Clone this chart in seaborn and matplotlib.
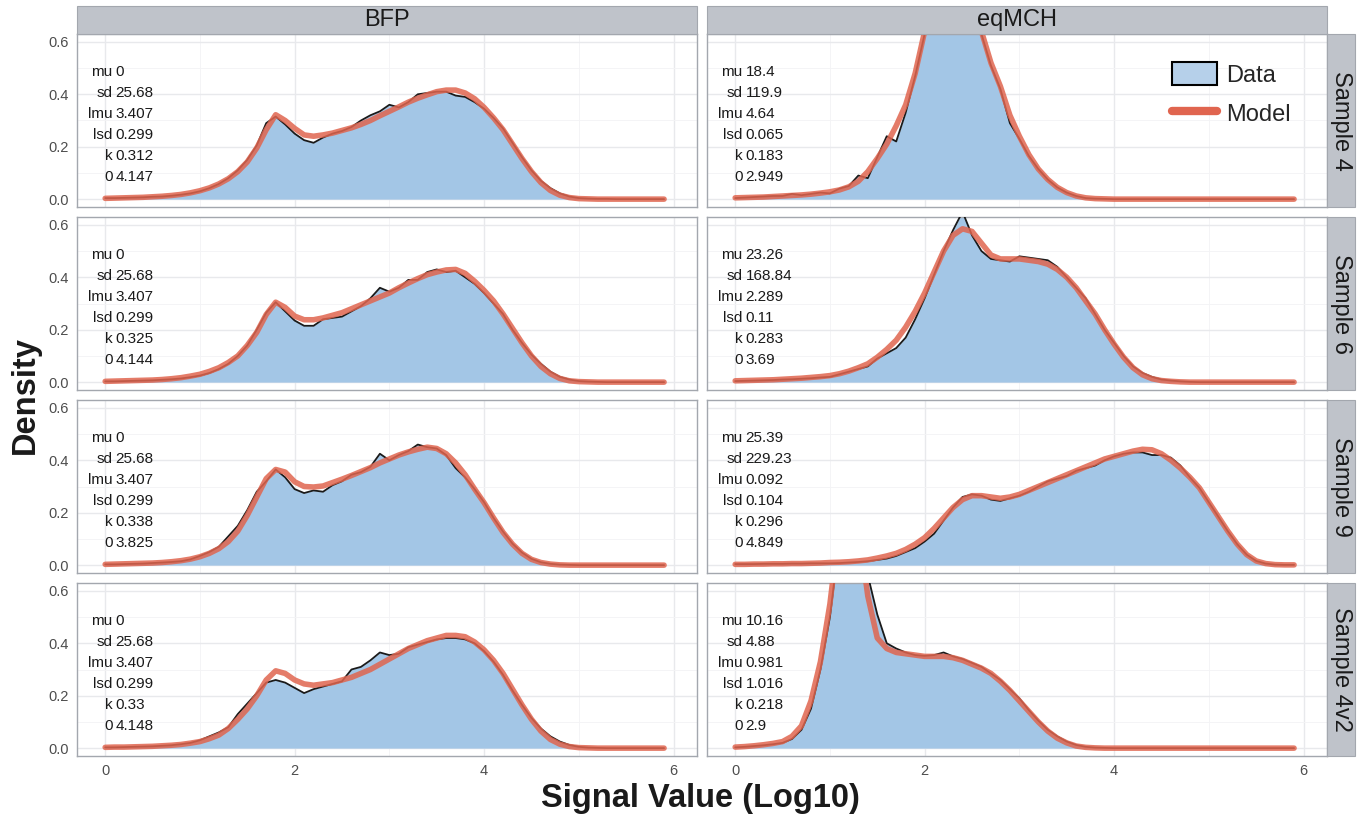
import numpy as np
import seaborn as sns
import matplotlib.pyplot as plt
from matplotlib.patches import Rectangle, Patch
from matplotlib.lines import Line2D

# Signal grid (log10 scale), shared by every panel
X = [0.0, 0.1, 0.2, 0.3, 0.4, 0.5, 0.6, 0.7, 0.8, 0.9,
     1.0, 1.1, 1.2, 1.3, 1.4, 1.5, 1.6, 1.7, 1.8, 1.9,
     2.0, 2.1, 2.2, 2.3, 2.4, 2.5, 2.6, 2.7, 2.8, 2.9,
     3.0, 3.1, 3.2, 3.3, 3.4, 3.5, 3.6, 3.7, 3.8, 3.9,
     4.0, 4.1, 4.2, 4.3, 4.4, 4.5, 4.6, 4.7, 4.8, 4.9,
     5.0, 5.1, 5.2, 5.3, 5.4, 5.5, 5.6, 5.7, 5.8, 5.9]

channels = ['BFP', 'eqMCH']
samples = ['Sample 4', 'Sample 6', 'Sample 9', 'Sample 4v2']
param_names = ['mu', 'sd', 'lmu', 'lsd', 'k', '0']

# --- BFP ---
bfp_s4_data = [.004, .004, .005, .006, .007, .009, .010, .013, .017, .022,
               .030, .042, .058, .080, .110, .150, .205, .290, .315, .285,
               .250, .225, .215, .235, .250, .260, .275, .300, .320, .335,
               .360, .350, .370, .400, .405, .410, .410, .395, .390, .370,
               .345, .310, .270, .215, .160, .110, .070, .042, .022, .010,
               .004, .002, .001, .001, 0, 0, 0, 0, 0, 0]
bfp_s4_model = [.003, .004, .005, .006, .007, .009, .011, .014, .018, .024,
                .032, .043, .058, .078, .105, .142, .195, .265, .322, .300,
                .270, .245, .240, .245, .252, .262, .272, .285, .300, .318,
                .335, .352, .370, .385, .398, .410, .416, .416, .405, .383,
                .350, .310, .265, .210, .155, .105, .063, .033, .015, .006,
                .002, .001, 0, 0, 0, 0, 0, 0, 0, 0]
bfp_s6_data = [.003, .003, .004, .005, .006, .007, .009, .011, .014, .019,
               .025, .035, .050, .070, .100, .140, .200, .265, .305, .270,
               .235, .215, .215, .240, .245, .250, .270, .290, .320, .360,
               .345, .360, .390, .390, .420, .430, .420, .425, .400, .375,
               .340, .300, .260, .200, .150, .105, .070, .040, .020, .010,
               .004, .002, .001, 0, 0, 0, 0, 0, 0, 0]
bfp_s6_model = [.003, .004, .005, .006, .007, .008, .010, .013, .017, .023,
                .030, .041, .055, .075, .100, .140, .190, .258, .305, .285,
                .252, .238, .238, .245, .255, .265, .280, .295, .310, .325,
                .340, .360, .378, .395, .410, .420, .428, .430, .415, .385,
                .350, .310, .260, .205, .150, .100, .060, .032, .014, .005,
                .002, .001, 0, 0, 0, 0, 0, 0, 0, 0]
bfp_s9_data = [.003, .003, .004, .005, .006, .008, .010, .012, .015, .022,
               .035, .050, .070, .110, .150, .210, .280, .320, .365, .335,
               .290, .275, .285, .280, .305, .320, .345, .355, .375, .425,
               .400, .420, .435, .460, .450, .445, .420, .370, .335, .290,
               .240, .180, .128, .082, .048, .024, .011, .005, .002, .001,
               0, 0, 0, 0, 0, 0, 0, 0, 0, 0]
bfp_s9_model = [.003, .004, .005, .006, .007, .008, .010, .013, .017, .023,
                .032, .045, .063, .090, .130, .190, .260, .330, .365, .355,
                .318, .300, .298, .302, .315, .328, .342, .357, .372, .390,
                .405, .420, .432, .442, .450, .445, .425, .390, .345, .290,
                .238, .180, .125, .080, .045, .022, .010, .004, .001, 0,
                0, 0, 0, 0, 0, 0, 0, 0, 0, 0]
bfp_s4v2_data = [.003, .003, .004, .005, .006, .007, .009, .011, .015, .020,
                 .030, .045, .060, .080, .130, .170, .210, .250, .260, .250,
                 .230, .210, .225, .235, .245, .255, .300, .310, .335, .365,
                 .355, .360, .385, .395, .405, .415, .420, .420, .415, .400,
                 .370, .330, .280, .220, .165, .115, .075, .045, .025, .012,
                 .005, .002, .001, 0, 0, 0, 0, 0, 0, 0]
bfp_s4v2_model = [.003, .004, .004, .005, .006, .007, .009, .011, .014, .019,
                  .025, .036, .050, .075, .110, .150, .200, .260, .295, .285,
                  .260, .245, .240, .245, .250, .260, .270, .285, .300, .320,
                  .340, .360, .380, .395, .410, .420, .430, .430, .425, .405,
                  .375, .335, .285, .225, .165, .110, .065, .033, .015, .006,
                  .002, .001, 0, 0, 0, 0, 0, 0, 0, 0]

# --- eqMCH ---
mch_s4_data = [.004, .006, .008, .010, .012, .012, .020, .015, .020, .025,
               .022, .040, .050, .090, .080, .160, .240, .220, .330, .470,
               .630, .800, .900, .950, .900, .780, .630, .510, .420, .290,
               .230, .165, .115, .075, .045, .025, .012, .004, .002, .001,
               0, 0, 0, 0, 0, 0, 0, 0, 0, 0,
               0, 0, 0, 0, 0, 0, 0, 0, 0, 0]
mch_s4_model = [.005, .006, .007, .008, .010, .012, .014, .016, .019, .023,
                .028, .035, .047, .068, .105, .155, .210, .280, .360, .480,
                .640, .780, .870, .900, .870, .780, .640, .520, .430, .320,
                .240, .170, .115, .075, .045, .025, .012, .005, .002, .001,
                0, 0, 0, 0, 0, 0, 0, 0, 0, 0,
                0, 0, 0, 0, 0, 0, 0, 0, 0, 0]
mch_s6_data = [.004, .005, .006, .007, .008, .010, .011, .013, .015, .018,
               .020, .030, .040, .050, .060, .090, .110, .130, .170, .240,
               .320, .410, .500, .580, .650, .560, .500, .470, .465, .460,
               .480, .475, .470, .465, .440, .400, .360, .320, .260, .200,
               .150, .100, .060, .035, .020, .010, .006, .003, .001, 0,
               0, 0, 0, 0, 0, 0, 0, 0, 0, 0]
mch_s6_model = [.005, .006, .007, .008, .009, .011, .013, .015, .018, .021,
                .025, .032, .042, .055, .070, .095, .125, .160, .210, .270,
                .340, .420, .500, .560, .585, .575, .530, .485, .470, .470,
                .470, .465, .460, .450, .430, .400, .360, .310, .260, .200,
                .145, .095, .055, .028, .013, .006, .003, .001, 0, 0,
                0, 0, 0, 0, 0, 0, 0, 0, 0, 0]
mch_s9_data = [.004, .004, .004, .005, .005, .005, .006, .006, .007, .007,
               .007, .008, .010, .012, .015, .020, .025, .035, .050, .065,
               .090, .120, .170, .220, .260, .270, .265, .250, .245, .255,
               .265, .280, .300, .320, .330, .340, .360, .370, .380, .400,
               .415, .425, .430, .430, .420, .420, .410, .380, .335, .295,
               .240, .185, .130, .080, .040, .016, .006, .002, .001, .001]
mch_s9_model = [.003, .003, .004, .004, .005, .005, .006, .006, .007, .008,
                .010, .011, .013, .016, .020, .027, .035, .045, .060, .080,
                .105, .140, .180, .220, .250, .265, .265, .260, .255, .260,
                .270, .285, .300, .315, .330, .345, .360, .375, .390, .405,
                .415, .425, .435, .442, .440, .425, .400, .370, .335, .295,
                .240, .185, .130, .080, .040, .016, .006, .002, .001, .001]
mch_s4v2_data = [.003, .005, .008, .011, .015, .020, .035, .070, .150, .300,
                 .500, .800, 1.05, 1.00, .660, .510, .400, .380, .365, .355,
                 .352, .355, .365, .350, .340, .325, .310, .285, .260, .225,
                 .190, .145, .105, .070, .045, .025, .012, .005, .002, .001,
                 0, 0, 0, 0, 0, 0, 0, 0, 0, 0,
                 0, 0, 0, 0, 0, 0, 0, 0, 0, 0]
mch_s4v2_model = [.004, .006, .009, .013, .018, .025, .045, .085, .180, .330,
                  .550, .850, 1.00, .850, .580, .420, .380, .365, .360, .355,
                  .350, .350, .350, .345, .335, .320, .305, .285, .255, .220,
                  .180, .140, .100, .065, .038, .020, .008, .003, .001, 0,
                  0, 0, 0, 0, 0, 0, 0, 0, 0, 0,
                  0, 0, 0, 0, 0, 0, 0, 0, 0, 0]

bfp_params = [['0', '25.68', '3.407', '0.299', '0.312', '4.147'],
              ['0', '25.68', '3.407', '0.299', '0.325', '4.144'],
              ['0', '25.68', '3.407', '0.299', '0.338', '3.825'],
              ['0', '25.68', '3.407', '0.299', '0.33', '4.148']]
mch_params = [['18.4', '119.9', '4.64', '0.065', '0.183', '2.949'],
              ['23.26', '168.84', '2.289', '0.11', '0.283', '3.69'],
              ['25.39', '229.23', '0.092', '0.104', '0.296', '4.849'],
              ['10.16', '4.88', '0.981', '1.016', '0.218', '2.9']]

data_grid = [[bfp_s4_data, mch_s4_data], [bfp_s6_data, mch_s6_data],
             [bfp_s9_data, mch_s9_data], [bfp_s4v2_data, mch_s4v2_data]]
model_grid = [[bfp_s4_model, mch_s4_model], [bfp_s6_model, mch_s6_model],
              [bfp_s9_model, mch_s9_model], [bfp_s4v2_model, mch_s4v2_model]]
param_grid = [[bfp_params[i], mch_params[i]] for i in range(4)]

FILL = '#a3c6e6'
RED = '#e0654f'
STRIP = '#bfc3ca'
BORDER = '#a3a7ae'

sns.set_theme(style='white')
plt.rcParams['font.family'] = ['Liberation Sans', 'DejaVu Sans']
narrow = ['Liberation Sans Narrow', 'Liberation Sans', 'DejaVu Sans']

W, H = 1358, 818
fig, axes = plt.subplots(4, 2, figsize=(W / 100, H / 100), dpi=100, sharex=True, sharey=True)
fig.subplots_adjust(left=77 / W, right=1327 / W, top=1 - 34 / H, bottom=1 - 756 / H,
                    wspace=10 / 620, hspace=10 / 173)

for i in range(4):
    for j in range(2):
        ax = axes[i, j]
        ax.set_xlim(-0.2975, 6.2475)
        ax.set_ylim(-0.03, 0.63)
        ax.set_xticks([0, 2, 4, 6])
        ax.set_xticks([1, 3, 5], minor=True)
        ax.set_yticks([0.0, 0.2, 0.4, 0.6])
        ax.set_yticks([0.1, 0.3, 0.5], minor=True)
        ax.grid(True, which='major', color='#e8e9ec', lw=1.0)
        ax.grid(True, which='minor', color='#f3f3f5', lw=0.6)
        ax.set_axisbelow(True)
        for s in ax.spines.values():
            s.set_color(BORDER)
            s.set_linewidth(1.0)

        ax.fill_between(X, 0, data_grid[i][j], color=FILL, lw=0, zorder=2)
        sns.lineplot(x=X, y=data_grid[i][j], ax=ax, color='#1a1a1a', lw=1.3, zorder=3)
        sns.lineplot(x=X, y=model_grid[i][j], ax=ax, color=RED, lw=4.0, alpha=0.85, zorder=4)

        ax.set_yticklabels(['0.0', '0.2', '0.4', '0.6'])
        ax.tick_params(axis='both', which='major', labelsize=10.5, labelcolor='#4d4d4d',
                       color='#4d4d4d', length=3, width=0.8, pad=3)
        ax.tick_params(axis='both', which='minor', length=0)
        if j == 1:
            ax.tick_params(axis='y', length=0)
        if i < 3:
            ax.tick_params(axis='x', length=0)
        ax.set_xlabel('')
        ax.set_ylabel('')

        # fitted parameters
        for k, (nm, val) in enumerate(zip(param_names, param_grid[i][j])):
            yy = 0.484 - 0.08 * k
            ax.text(0.078, yy, nm, ha='right', va='center', fontsize=11,
                    family=narrow, color='#1a1a1a', zorder=5)
            ax.text(0.11, yy, val, ha='left', va='center', fontsize=11,
                    family=narrow, color='#1a1a1a', zorder=5)

# facet strips
for j, name in enumerate(channels):
    pos = axes[0, j].get_position()
    fig.add_artist(Rectangle((pos.x0, 1 - 34 / H), pos.width, 28 / H, transform=fig.transFigure,
                             facecolor=STRIP, edgecolor=BORDER, lw=0.8))
    fig.text(pos.x0 + pos.width / 2, 1 - 20 / H, name, ha='center', va='center',
             fontsize=17, color='#1a1a1a')
for i, name in enumerate(samples):
    pos = axes[i, 1].get_position()
    fig.add_artist(Rectangle((1327 / W, pos.y0), 28 / W, pos.height, transform=fig.transFigure,
                             facecolor=STRIP, edgecolor=BORDER, lw=0.8))
    fig.text(1341 / W, pos.y0 + pos.height / 2, name, ha='center', va='center',
             rotation=-90, fontsize=17, color='#1a1a1a')

# legend inside the top-right panel
handles = [Patch(facecolor='#b6d0ea', edgecolor='black', lw=1.5, label='Data'),
           Line2D([0], [0], color=RED, lw=6, label='Model')]
axes[0, 1].legend(handles=handles, loc='upper left', bbox_to_anchor=(1172 / W, 1 - 62 / H),
                  bbox_transform=fig.transFigure, frameon=False, fontsize=17,
                  handlelength=1.9, handleheight=1.15, labelspacing=0.6,
                  handletextpad=0.4, borderpad=0, borderaxespad=0)

fig.text(700 / W, 1 - 798 / H, 'Signal Value (Log10)', ha='center', va='center',
         fontsize=23.5, fontweight='bold', color='#1a1a1a')
fig.text(25 / W, 1 - 395 / H, 'Density', ha='center', va='center', rotation=90,
         fontsize=23.5, fontweight='bold', color='#1a1a1a')

fig.savefig('out.png', dpi=100)
